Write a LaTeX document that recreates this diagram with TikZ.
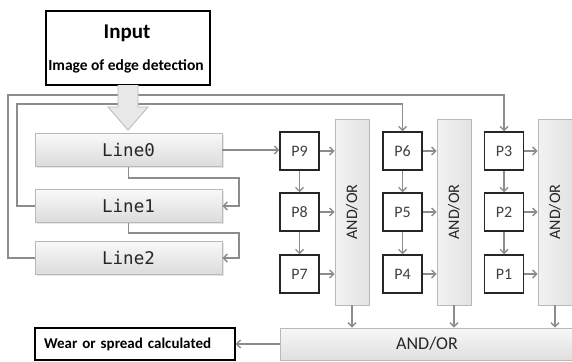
\documentclass[tikz,border=0pt]{standalone}
\usepackage{fontspec}
\setmainfont{Carlito}
\newfontfamily\linefont{DejaVu Sans Mono}
\usetikzlibrary{arrows.meta,positioning,shadows}

\begin{document}
\begin{tikzpicture}[
  x=1pt, y=-1pt,
  outbox/.style={draw, line width=1.2pt, fill=white, inner sep=0pt},
  linebox/.style={draw=gray!55, line width=0.8pt, top color=gray!5, bottom color=gray!28, minimum width=187pt, minimum height=33pt, font=\linefont\fontsize{17.5}{20}\selectfont, text=black!85, drop shadow={opacity=0.2, shadow xshift=1.5pt, shadow yshift=-1.5pt}},
  pbox/.style={draw=black!85, line width=1.5pt, fill=white, minimum width=39pt, minimum height=38pt, font=\fontsize{16}{19}\selectfont, text=black!75},
  gate/.style={draw=gray!55, line width=0.8pt, left color=gray!10, right color=gray!22, minimum width=34pt, minimum height=186pt, inner sep=0pt},
  gatelab/.style={rotate=90, font=\fontsize{16}{19}\selectfont, text=black!85},
  gateall/.style={draw=gray!55, line width=0.8pt, top color=gray!6, bottom color=gray!25, minimum width=294pt, minimum height=32pt, font=\fontsize{18}{21}\selectfont, text=black!85},
  arr/.style={-{Straight Barb[length=4pt, width=8pt]}, draw=black!45, line width=1.4pt}
]
\useasboundingbox (0,0) rectangle (572,361);

\node[outbox, minimum width=164pt, minimum height=74pt] (input) at (128,48) {};
\node[font=\bfseries\fontsize{21}{25}\selectfont] (intitle) at (127,33) {Input};
\node[font=\bfseries\fontsize{15.5}{18}\selectfont] (insub) at (126,66) {Image of edge detection};

\node[linebox] (line0) at (128.5,150) {Line0};
\node[linebox] (line1) at (128.5,206) {Line1};
\node[linebox] (line2) at (128.5,258) {Line2};

\node[pbox] (p9) at (299.5,151) {P9};
\node[pbox] (p8) at (299.5,212) {P8};
\node[pbox] (p7) at (299.5,274) {P7};
\node[pbox] (p6) at (402.5,151) {P6};
\node[pbox] (p5) at (402.5,212) {P5};
\node[pbox] (p4) at (402.5,274) {P4};
\node[pbox] (p3) at (504,151) {P3};
\node[pbox] (p2) at (504,212) {P2};
\node[pbox] (p1) at (504,274) {P1};

\node[gate, label={[gatelab]center:AND/OR}] (g1) at (352,212) {};
\node[gate, label={[gatelab]center:AND/OR}] (g2) at (454,212) {};
\node[gate, label={[gatelab]center:AND/OR}] (g3) at (555,212) {};
\node[gateall] (gall) at (427,344) {AND/OR};

\node[outbox, minimum height=32pt, text width=182pt, inner xsep=9pt, align=left, font=\bfseries\fontsize{15}{18}\selectfont] (result) at (135,344) {Wear or spread calculated};

% feedback from the lower lines to the other columns
\draw[arr] (line1.west) -- (17,206) -- (17,104) -| (p6.north);
\draw[arr] (line2.west) -- (8,258) -- (8,95) -| (p3.north);

% wide input arrow
\draw[draw=gray!55, fill=gray!18, line width=0.8pt] (118,85) -- (118,107) -- (108,107) -- (128,130) -- (148,107) -- (138,107) -- (138,85);

\draw[arr] (line0.east) -- (p9.west |- line0.east);
\draw[arr] (line0.south) -- (128.5,178) -- (239,178) |- (line1.east);
\draw[arr] (line1.south) -- (128.5,233) -- (239,233) |- (line2.east);

\draw[arr] (p9) -- (p8);
\draw[arr] (p8) -- (p7);
\draw[arr] (p6) -- (p5);
\draw[arr] (p5) -- (p4);
\draw[arr] (p3) -- (p2);
\draw[arr] (p2) -- (p1);

\draw[arr] (p9.east) -- (p9.east -| g1.west);
\draw[arr] (p8.east) -- (p8.east -| g1.west);
\draw[arr] (p7.east) -- (p7.east -| g1.west);
\draw[arr] (p6.east) -- (p6.east -| g2.west);
\draw[arr] (p5.east) -- (p5.east -| g2.west);
\draw[arr] (p4.east) -- (p4.east -| g2.west);
\draw[arr] (p3.east) -- (p3.east -| g3.west);
\draw[arr] (p2.east) -- (p2.east -| g3.west);
\draw[arr] (p1.east) -- (p1.east -| g3.west);

\draw[arr] (g1.south) -- (g1.south |- gall.north);
\draw[arr] (g2.south) -- (g2.south |- gall.north);
\draw[arr] (g3.south) -- (g3.south |- gall.north);

\draw[arr] (gall.west) -- (result.east);

\end{tikzpicture}
\end{document}
